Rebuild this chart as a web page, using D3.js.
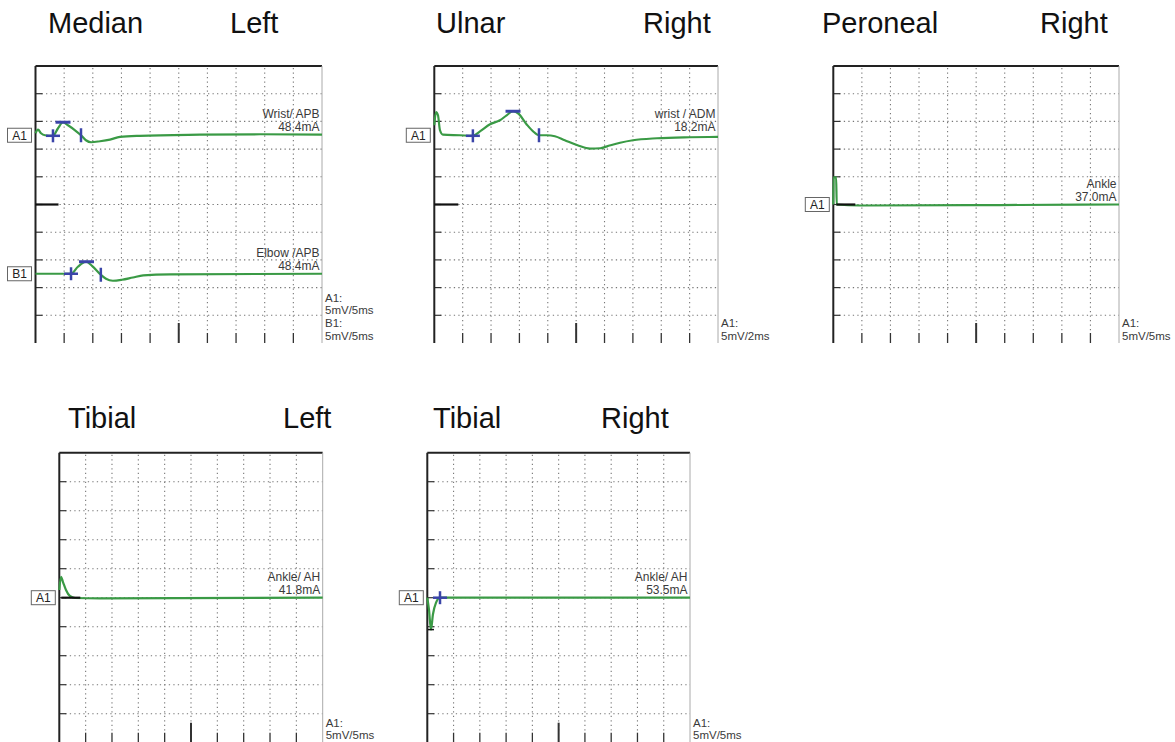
<!DOCTYPE html>
<html><head><meta charset="utf-8">
<script src="https://cdn.jsdelivr.net/npm/d3@7"></script>
<style>
html,body{margin:0;padding:0;background:#fff;}
text{font-family:"Liberation Sans",Arial,sans-serif;}
</style></head>
<body>
<script>
// ---------- DATA (time in ms, amplitude in mV relative to channel baseline) ----------
const panelTitles = [["Median","Left"],["Ulnar","Right"],["Peroneal","Right"],["Tibial","Left"],["Tibial","Right"]];
const channelNames = ["A1","B1"];

const medianWristTrace = [[0,0.36],[0.44,1.0],[0.96,0.36],[1.66,0],[3.05,-0.1],[3.93,1.26],[4.8,2.35],[5.67,1.8],[6.9,0.9],[7.94,0],[8.8,-0.9],[9.7,-1.26],[11.26,-1.08],[13.0,-0.78],[14.75,-0.3],[18.2,-0.1],[28.7,0.1],[39.2,0.18],[50,0.1]];
const medianWristMarks = {onset:[3.05,-0.1], peak:[4.8,2.35], end:[7.94,0]};
const medianWristLabel = ["Wrist/ APB","48.4mA"];

const medianElbowTrace = [[0,0],[6.2,0],[7.4,1.26],[8.8,2.17],[9.86,1.44],[11.4,-0.18],[12.3,-0.9],[13.5,-1.26],[15.1,-1.08],[17.0,-0.67],[18.8,-0.3],[23.5,-0.1],[50,0]];
const medianElbowMarks = {onset:[6.2,0], peak:[8.9,2.17], end:[11.4,-0.18]};
const medianElbowLabel = ["Elbow /APB","48.4mA"];
const medianNotes = ["A1:","5mV/5ms","B1:","5mV/5ms"];

const ulnarWristTrace = [[0,1.8],[0.12,4.2],[0.26,3.6],[0.4,0.9],[0.61,0.1],[1.81,0],[2.72,-0.1],[3.22,0.7],[3.93,2.0],[4.63,2.7],[5.1,3.6],[5.55,4.33],[5.9,3.97],[6.5,2.0],[6.96,0.72],[7.38,0],[7.94,0],[8.5,-0.18],[9.2,-0.9],[10.1,-1.8],[10.98,-2.4],[11.7,-2.35],[12.18,-2.0],[13.1,-1.35],[14.0,-0.9],[15.7,-0.54],[18.0,-0.36],[20,-0.3]];
const ulnarWristMarks = {onset:[2.72,-0.1], peak:[5.55,4.33], end:[7.38,0]};
const ulnarWristLabel = ["wrist / ADM","18.2mA"];
const ulnarNotes = ["A1:","5mV/2ms"];

const peronealAnkleTrace = [[0,0],[0.04,4.9],[0.5,4.9],[0.6,0],[4.6,-0.18],[29.2,-0.1],[50,0]];
const peronealAnkleLabel = ["Ankle","37.0mA"];
const peronealNotes = ["A1:","5mV/5ms"];

const tibialLeftTrace = [[0,1.33],[0.32,3.6],[0.7,2.7],[1.27,1.33],[2.0,0.3],[3.0,-0.05],[7.7,-0.1],[50,0]];
const tibialLeftLabel = ["Ankle/ AH","41.8mA"];
const tibialLeftNotes = ["A1:","5mV/5ms"];

const tibialRightTrace = [[0,0],[0.32,-2.07],[0.7,-5.5],[1.07,-2.9],[1.66,-0.86],[2.42,0],[4.3,0],[50,0]];
const tibialRightMarks = {onset:[2.42,0], dip:[0.7,-5.5]};
const tibialRightLabel = ["Ankle/ AH","53.5mA"];
const tibialRightNotes = ["A1:","5mV/5ms"];

// ---------- LAYOUT ----------
const W = 1175, H = 742;
const GREEN = "#3a9a45", BLUE = "#3a44a8";
const svg = d3.select("body").append("svg").attr("width", W).attr("height", H);

const panels = [
  {left:35.5, top:66, width:286.5, height:277, msDiv:5, mvDiv:5, title:panelTitles[0], titleX:[48,230], titleY:33,
   zeroMark:{div:5, x0:0, x1:23},
   channels:[{name:channelNames[0], baseDiv:2.5, trace:medianWristTrace, marks:medianWristMarks, label:medianWristLabel},
             {name:channelNames[1], baseDiv:7.5, trace:medianElbowTrace, marks:medianElbowMarks, label:medianElbowLabel}],
   notes:medianNotes},
  {left:434.3, top:66, width:283.7, height:277, msDiv:2, mvDiv:5, title:panelTitles[1], titleX:[436,643], titleY:33,
   zeroMark:{div:5, x0:0, x1:24},
   channels:[{name:channelNames[0], baseDiv:2.5, trace:ulnarWristTrace, marks:ulnarWristMarks, label:ulnarWristLabel}],
   notes:ulnarNotes},
  {left:833.3, top:66, width:285.7, height:277, msDiv:5, mvDiv:5, title:panelTitles[2], titleX:[822,1040], titleY:33,
   zeroMark:{div:5, x0:3, x1:22},
   channels:[{name:channelNames[0], baseDiv:5, trace:peronealAnkleTrace, marks:null, label:peronealAnkleLabel}],
   notes:peronealNotes},
  {left:59.3, top:452.7, width:263.4, height:290, msDiv:5, mvDiv:5, title:panelTitles[3], titleX:[68,283], titleY:428,
   zeroMark:{div:5, x0:2, x1:21},
   channels:[{name:channelNames[0], baseDiv:5, trace:tibialLeftTrace, marks:null, label:tibialLeftLabel}],
   notes:tibialLeftNotes},
  {left:427.3, top:452.7, width:262.7, height:290, msDiv:5, mvDiv:5, title:panelTitles[4], titleX:[433,601], titleY:428,
   zeroMark:null,
   channels:[{name:channelNames[0], baseDiv:5, trace:tibialRightTrace, marks:tibialRightMarks, label:tibialRightLabel}],
   notes:tibialRightNotes}
];

function drawPanel(p) {
  const g = svg.append("g");
  const right = p.left + p.width, bottom = p.top + p.height;
  const x = d3.scaleLinear().domain([0, 10 * p.msDiv]).range([p.left, right]);
  const yDiv = d3.scaleLinear().domain([0, 10]).range([p.top, bottom]);
  const inner = d3.range(1, 10);

  // titles
  g.append("text").attr("x", p.titleX[0]).attr("y", p.titleY).attr("font-size", 29).attr("fill", "#111").text(p.title[0]);
  g.append("text").attr("x", p.titleX[1]).attr("y", p.titleY).attr("font-size", 29).attr("fill", "#111").text(p.title[1]);

  // dotted grid
  g.selectAll(".hg").data(inner).enter().append("line")
    .attr("x1", p.left + 6).attr("x2", right).attr("y1", d => yDiv(d)).attr("y2", d => yDiv(d))
    .attr("stroke", "#777").attr("stroke-width", 1.1).attr("stroke-dasharray", "1.3,3.2");
  g.selectAll(".vg").data(inner).enter().append("line")
    .attr("x1", d => x(d * p.msDiv)).attr("x2", d => x(d * p.msDiv)).attr("y1", p.top + 2).attr("y2", bottom - 10)
    .attr("stroke", "#777").attr("stroke-width", 1.1).attr("stroke-dasharray", "1.3,3.2");
  // left ticks
  g.selectAll(".lt").data(inner).enter().append("line")
    .attr("x1", p.left).attr("x2", p.left + 7).attr("y1", d => yDiv(d)).attr("y2", d => yDiv(d))
    .attr("stroke", "#333").attr("stroke-width", 1.2);
  // bottom ticks
  g.selectAll(".bt").data(inner).enter().append("line")
    .attr("x1", d => x(d * p.msDiv)).attr("x2", d => x(d * p.msDiv))
    .attr("y1", d => d === 5 ? bottom - 20 : bottom - 10).attr("y2", bottom)
    .attr("stroke", "#333").attr("stroke-width", d => d === 5 ? 2 : 1.3);
  // borders
  g.append("line").attr("x1", p.left).attr("x2", right).attr("y1", p.top).attr("y2", p.top).attr("stroke", "#222").attr("stroke-width", 2);
  g.append("line").attr("x1", p.left).attr("x2", p.left).attr("y1", p.top).attr("y2", bottom).attr("stroke", "#222").attr("stroke-width", 2);
  g.append("line").attr("x1", right).attr("x2", right).attr("y1", p.top).attr("y2", bottom).attr("stroke", "#aaa").attr("stroke-width", 1);

  p.channels.forEach(ch => {
    const top0 = ch.baseDiv * p.mvDiv;
    const y = d3.scaleLinear().domain([top0, top0 - 10 * p.mvDiv]).range([p.top, bottom]);
    const base = y(0);
    const line = d3.line().x(d => x(d[0])).y(d => y(d[1])).curve(d3.curveMonotoneX);
    g.append("path").datum(ch.trace).attr("d", line).attr("fill", "none")
      .attr("stroke", GREEN).attr("stroke-width", 2.2).attr("stroke-linejoin", "round");

    // channel box
    g.append("rect").attr("x", p.left - 28).attr("y", base - 7).attr("width", 24).attr("height", 14)
      .attr("fill", "#fff").attr("stroke", "#666").attr("stroke-width", 1);
    g.append("text").attr("x", p.left - 16).attr("y", base + 4.5).attr("text-anchor", "middle")
      .attr("font-size", 12).attr("fill", "#222").text(ch.name);

    // site labels
    g.append("text").attr("x", right - 2.5).attr("y", base - 17).attr("text-anchor", "end")
      .attr("font-size", 12).attr("fill", "#3a3a3a").text(ch.label[0]);
    g.append("text").attr("x", right - 2.5).attr("y", base - 4).attr("text-anchor", "end")
      .attr("font-size", 12).attr("fill", "#3a3a3a").text(ch.label[1]);

    if (ch.marks) {
      const m = ch.marks;
      if (m.onset) {
        const cx = x(m.onset[0]), cy = y(m.onset[1]);
        g.append("line").attr("x1", cx - 7).attr("x2", cx + 7).attr("y1", cy).attr("y2", cy).attr("stroke", BLUE).attr("stroke-width", 2.5);
        g.append("line").attr("x1", cx).attr("x2", cx).attr("y1", cy - 6.5).attr("y2", cy + 6.5).attr("stroke", BLUE).attr("stroke-width", 2.5);
      }
      if (m.peak) {
        const cx = x(m.peak[0]), cy = y(m.peak[1]);
        g.append("line").attr("x1", cx - 7.5).attr("x2", cx + 7.5).attr("y1", cy).attr("y2", cy).attr("stroke", BLUE).attr("stroke-width", 3);
      }
      if (m.end) {
        const cx = x(m.end[0]), cy = y(m.end[1]);
        g.append("line").attr("x1", cx).attr("x2", cx).attr("y1", cy - 7).attr("y2", cy + 7).attr("stroke", BLUE).attr("stroke-width", 2.5);
      }
      if (m.dip) {
        const cx = x(m.dip[0]), cy = y(m.dip[1]);
        g.append("line").attr("x1", cx - 3).attr("x2", cx + 3).attr("y1", cy).attr("y2", cy).attr("stroke", "#111").attr("stroke-width", 1.5);
      }
    }
  });

  if (p.zeroMark) {
    const zy = yDiv(p.zeroMark.div);
    g.append("line").attr("x1", p.left + p.zeroMark.x0).attr("x2", p.left + p.zeroMark.x1)
      .attr("y1", zy).attr("y2", zy).attr("stroke", "#111").attr("stroke-width", 2.2);
  }

  // notes bottom right
  const n = p.notes.length;
  p.notes.forEach((t, i) => {
    g.append("text").attr("x", right + 3).attr("y", bottom - 3.5 - (n - 1 - i) * 12.6)
      .attr("font-size", 11.5).attr("fill", "#3a3a3a").text(t);
  });
}

panels.forEach(drawPanel);
</script>
</body></html>
